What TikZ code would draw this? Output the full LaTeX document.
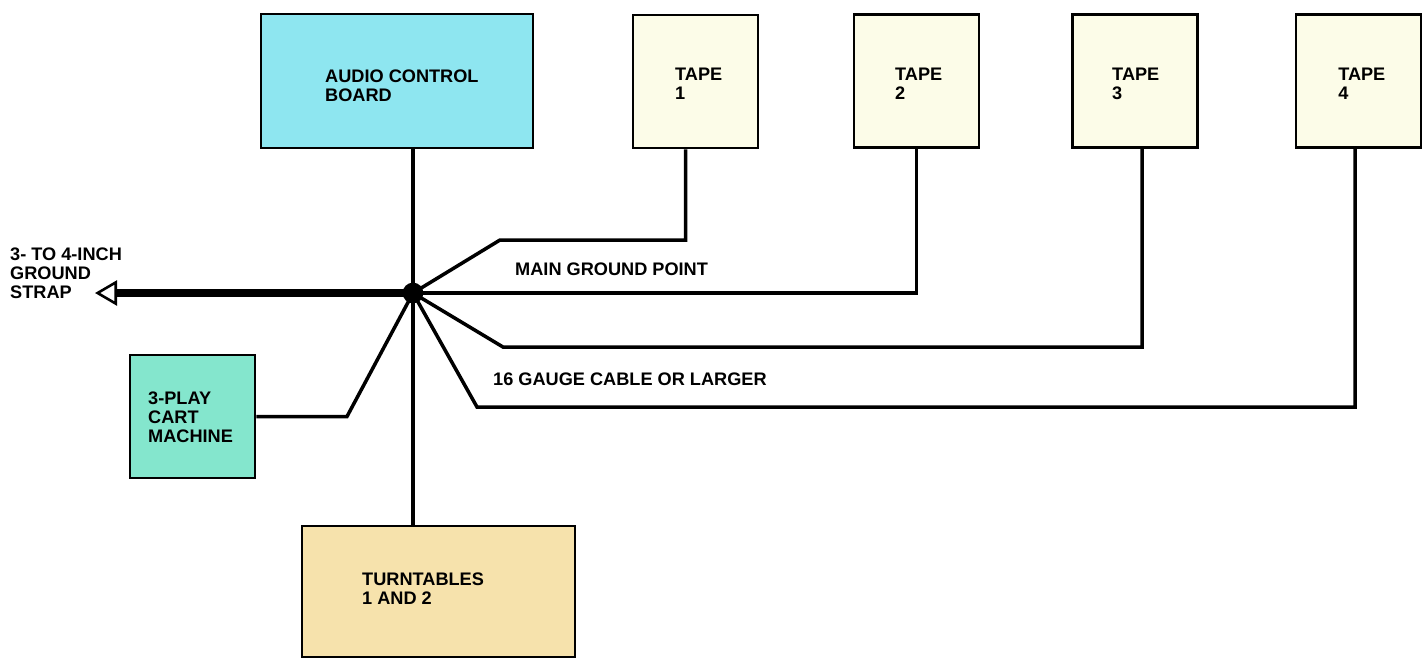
\documentclass[tikz,border=0pt]{standalone}
\usepackage{fontspec}
\setmainfont{Liberation Sans}
\usetikzlibrary{arrows.meta}
\definecolor{boardcyan}{RGB}{142,230,240}
\definecolor{tapecream}{RGB}{252,252,232}
\definecolor{cartgreen}{RGB}{132,230,205}
\definecolor{tablesand}{RGB}{246,226,172}
\tikzset{
  unit/.style={draw=black, line width=2.4pt, rectangle, inner sep=0pt},
  tapebox/.style={unit, fill=tapecream, minimum width=3.75cm, minimum height=3.99cm},
  wire/.style={line width=3pt},
  gpdot/.style={circle, fill=black, minimum size=0.62cm, inner sep=0pt},
  tag/.style={anchor=north west, inner sep=0pt, align=left,
    font=\fontsize{15.5}{16.2}\selectfont\bfseries},
}
\begin{document}
\begin{tikzpicture}[x=0.03cm,y=-0.03cm]
\useasboundingbox[fill=white] (0,0) rectangle (1428,658);
% boxes
\node[unit, fill=boardcyan, minimum width=8.16cm, minimum height=4.02cm] (board) at (397,81) {};
\node[tapebox] (t1) at (695.5,81.5) {};
\node[tapebox] (t2) at (916.5,81) {};
\node[tapebox] (t3) at (1135,81) {};
\node[tapebox] (t4) at (1358.5,81) {};
\node[unit, fill=cartgreen, minimum width=3.75cm, minimum height=3.69cm] (cart) at (192.5,416.5) {};
\node[unit, fill=tablesand, minimum width=8.19cm, minimum height=3.93cm] (tables) at (438.5,591.5) {};
% main ground point
\node[gpdot] (gp) at (413,293) {};
\coordinate (strap) at (95,293);
% wires
\draw[wire] (gp |- board.south) -- (gp.center);
\draw[wire] (gp.center) -- (gp |- tables.north);
\draw[wire] ([xshift=-0.3cm]t1.south) |- (500,240) -- (gp.center);
\draw[wire] (t2.south) |- (gp.center);
\draw[wire] ([xshift=0.21cm]t3.south) |- (503,347) -- (gp.center);
\draw[wire] ([xshift=-0.1cm]t4.south) |- (477,407) -- (gp.center);
\draw[wire] (cart.east) -- (347,416.5) -- (gp.center);
\draw[line width=6.5pt, -{Triangle[open, length=0.66cm, width=0.75cm, line width=2.2pt]}] (gp.center) -- (strap);
% labels
\node[tag] (boardtxt) at (325,70) {AUDIO CONTROL\\BOARD};
\node[tag] (t1txt) at (675,68) {TAPE\\1};
\node[tag] (t2txt) at (895,68) {TAPE\\2};
\node[tag] (t3txt) at (1112,68) {TAPE\\3};
\node[tag] (t4txt) at (1338,68) {TAPE\\4};
\node[tag] (carttxt) at (148,392) {3-PLAY\\CART\\MACHINE};
\node[tag] (tablestxt) at (362,573) {TURNTABLES\\1 AND 2};
\node[tag] (straptxt) at (10,248) {3- TO 4-INCH\\GROUND\\STRAP};
\node[tag] (gptxt) at (515,263) {MAIN GROUND POINT};
\node[tag] (gaugetxt) at (493,373) {16 GAUGE CABLE OR LARGER};
\end{tikzpicture}
\end{document}
